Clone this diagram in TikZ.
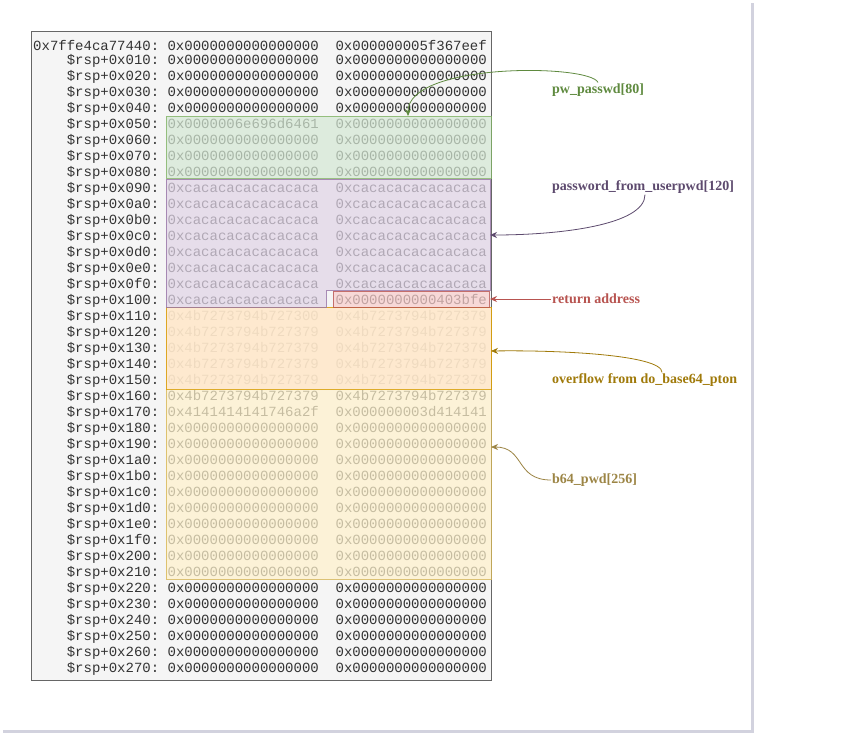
\documentclass[tikz,border=0pt]{standalone}
\usepackage{fontspec}
\setmainfont{Liberation Serif}
\setmonofont{Liberation Mono}
\usepackage{xcolor}
\usepackage{tikz}
\usetikzlibrary{arrows.meta, positioning, calc}
\definecolor{dumpText}{HTML}{333333}
\definecolor{dumpFill}{HTML}{F5F5F5}
\definecolor{dumpLine}{HTML}{666666}
\definecolor{pageShadow}{HTML}{D2D2DE}
\definecolor{greenFill}{HTML}{D5E8D4}
\definecolor{greenLine}{HTML}{82B366}
\definecolor{greenText}{HTML}{5F8A3F}
\definecolor{purpleFill}{HTML}{E1D5E7}
\definecolor{purpleLine}{HTML}{9673A6}
\definecolor{purpleText}{HTML}{5D4A6E}
\definecolor{redFill}{HTML}{F8CECC}
\definecolor{redLine}{HTML}{B85450}
\definecolor{orangeFill}{HTML}{FFE6CC}
\definecolor{orangeLine}{HTML}{D79B00}
\definecolor{orangeText}{HTML}{A07A0A}
\definecolor{yellowFill}{HTML}{FFF2CC}
\definecolor{yellowLine}{HTML}{D6B656}
\definecolor{yellowText}{HTML}{9C8545}

\begin{document}
\begin{tikzpicture}[
    x=1pt,y=-1pt,
    memrow/.style={anchor=west,inner sep=0pt,text=dumpText,
                   font=\ttfamily\fontsize{14}{16}\selectfont},
    region/.style={line width=0.8pt,fill opacity=0.72,draw opacity=0.8},
    varlabel/.style={anchor=west,inner sep=1pt,font=\bfseries\fontsize{14}{16}\selectfont},
    pointer/.style={-{Stealth[length=7pt,width=6pt]},line width=0.8pt}
]
    % Page with shadow
    \useasboundingbox (0,0) rectangle (862,742);
    \fill[pageShadow] (3,3) rectangle (754,733);
    \fill[white] (0,0) rectangle (751,730);

    % Memory dump
    \draw[dumpLine,fill=dumpFill,line width=0.8pt] (31,31) rectangle (491,680);
    \foreach \addr/\va/\vb [count=\i from 0] in {
        0x7ffe4ca77440/0x0000000000000000/0x000000005f367eef,
        ~~~~\$rsp+0x010/0x0000000000000000/0x0000000000000000,
        ~~~~\$rsp+0x020/0x0000000000000000/0x0000000000000000,
        ~~~~\$rsp+0x030/0x0000000000000000/0x0000000000000000,
        ~~~~\$rsp+0x040/0x0000000000000000/0x0000000000000000,
        ~~~~\$rsp+0x050/0x0000006e696d6461/0x0000000000000000,
        ~~~~\$rsp+0x060/0x0000000000000000/0x0000000000000000,
        ~~~~\$rsp+0x070/0x0000000000000000/0x0000000000000000,
        ~~~~\$rsp+0x080/0x0000000000000000/0x0000000000000000,
        ~~~~\$rsp+0x090/0xcacacacacacacaca/0xcacacacacacacaca,
        ~~~~\$rsp+0x0a0/0xcacacacacacacaca/0xcacacacacacacaca,
        ~~~~\$rsp+0x0b0/0xcacacacacacacaca/0xcacacacacacacaca,
        ~~~~\$rsp+0x0c0/0xcacacacacacacaca/0xcacacacacacacaca,
        ~~~~\$rsp+0x0d0/0xcacacacacacacaca/0xcacacacacacacaca,
        ~~~~\$rsp+0x0e0/0xcacacacacacacaca/0xcacacacacacacaca,
        ~~~~\$rsp+0x0f0/0xcacacacacacacaca/0xcacacacacacacaca,
        ~~~~\$rsp+0x100/0xcacacacacacacaca/0x0000000000403bfe,
        ~~~~\$rsp+0x110/0x4b7273794b727300/0x4b7273794b727379,
        ~~~~\$rsp+0x120/0x4b7273794b727379/0x4b7273794b727379,
        ~~~~\$rsp+0x130/0x4b7273794b727379/0x4b7273794b727379,
        ~~~~\$rsp+0x140/0x4b7273794b727379/0x4b7273794b727379,
        ~~~~\$rsp+0x150/0x4b7273794b727379/0x4b7273794b727379,
        ~~~~\$rsp+0x160/0x4b7273794b727379/0x4b7273794b727379,
        ~~~~\$rsp+0x170/0x4141414141746a2f/0x000000003d414141,
        ~~~~\$rsp+0x180/0x0000000000000000/0x0000000000000000,
        ~~~~\$rsp+0x190/0x0000000000000000/0x0000000000000000,
        ~~~~\$rsp+0x1a0/0x0000000000000000/0x0000000000000000,
        ~~~~\$rsp+0x1b0/0x0000000000000000/0x0000000000000000,
        ~~~~\$rsp+0x1c0/0x0000000000000000/0x0000000000000000,
        ~~~~\$rsp+0x1d0/0x0000000000000000/0x0000000000000000,
        ~~~~\$rsp+0x1e0/0x0000000000000000/0x0000000000000000,
        ~~~~\$rsp+0x1f0/0x0000000000000000/0x0000000000000000,
        ~~~~\$rsp+0x200/0x0000000000000000/0x0000000000000000,
        ~~~~\$rsp+0x210/0x0000000000000000/0x0000000000000000,
        ~~~~\$rsp+0x220/0x0000000000000000/0x0000000000000000,
        ~~~~\$rsp+0x230/0x0000000000000000/0x0000000000000000,
        ~~~~\$rsp+0x240/0x0000000000000000/0x0000000000000000,
        ~~~~\$rsp+0x250/0x0000000000000000/0x0000000000000000,
        ~~~~\$rsp+0x260/0x0000000000000000/0x0000000000000000,
        ~~~~\$rsp+0x270/0x0000000000000000/0x0000000000000000}
        \node[memrow] (row\i) at (33,{45+16*\i}) {\addr:~\va~~\vb};

    % Stack regions
    \filldraw[region,fill=yellowFill,draw=yellowLine] (166,307) rectangle (491,579);
    \filldraw[region,fill=orangeFill,draw=orangeLine] (166,307) rectangle (491,389);
    \filldraw[region,fill=greenFill,draw=greenLine] (166,116) rectangle (491,178);
    \filldraw[region,fill=purpleFill,draw=purpleLine]
        (166,179) -- (490,179) -- (490,290) -- (326,290) -- (326,307) -- (166,307) -- cycle;
    \filldraw[region,fill=redFill,draw=redLine] (333,291) rectangle (489,307);

    \coordinate (pwTop) at (408,116);
    \coordinate (userEdge) at (490,235);
    \coordinate (retEdge) at (490,299);
    \coordinate (ovfEdge) at (491,351);
    \coordinate (b64Edge) at (491,447);

    % Labels
    \node[varlabel,text=greenText] (pwpasswd) at (551,90) {pw\_passwd[80]};
    \node[varlabel,text=purpleText] (userpwd) at (551,187) {password\_from\_userpwd[120]};
    \node[varlabel,text=redLine] (retaddr) at (551,299) {return address};
    \node[varlabel,text=orangeText] (overflow) at (551,380) {overflow from do\_base64\_pton};
    \node[varlabel,text=yellowText] (b64pwd) at (551,480) {b64\_pwd[256]};

    % Arrows
    \draw[pointer,greenText] (pwpasswd.north -| 598,0) .. controls (590,64) and (408,62) .. (pwTop);
    \draw[pointer,purpleText] (userpwd.south -| 645,0) .. controls (645,225) and (560,235) .. (userEdge);
    \draw[pointer,redLine] (retaddr.west) -- (retEdge);
    \draw[pointer,orangeText] (overflow.north -| 662,0) .. controls (662,355) and (560,350) .. (ovfEdge);
    \draw[pointer,yellowText] (b64pwd.west) .. controls (515,480) and (525,447) .. (b64Edge);
\end{tikzpicture}
\end{document}
